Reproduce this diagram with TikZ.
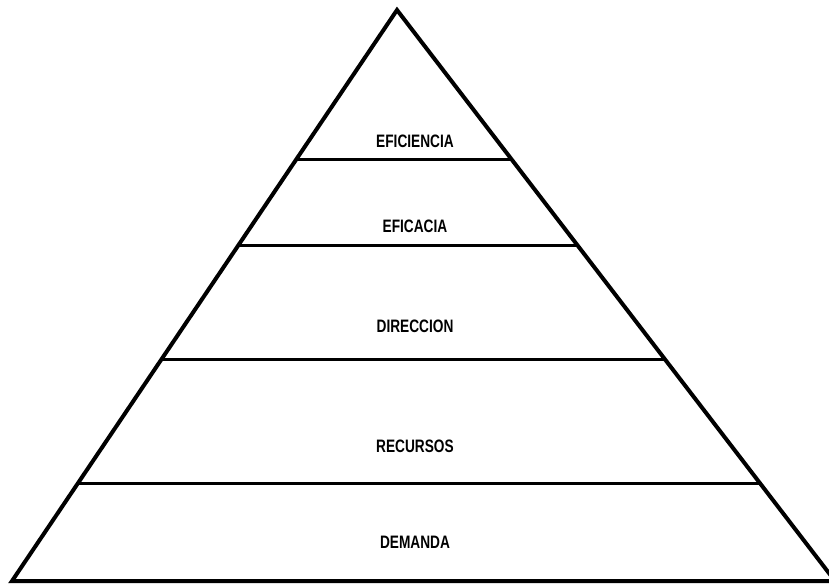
\documentclass[tikz,border=0pt]{standalone}
\usepackage{fontspec}
\setmainfont{Liberation Sans}[FakeStretch=0.76]
\usetikzlibrary{calc}
\tikzset{
  side/.style={line width=4pt, line join=miter, line cap=round},
  band/.style={line width=3pt},
  tag/.style={font=\bfseries\fontsize{18}{20}\selectfont, inner sep=0pt, anchor=center}
}
\begin{document}
\begin{tikzpicture}[x=1pt, y=-1pt]
  \useasboundingbox (0,0) rectangle (829,583);
  \clip (0,0) rectangle (829,583);
  % pyramid corners
  \coordinate (apex) at (397,10);
  \coordinate (bl) at (12,581);
  \coordinate (br) at (835,581);
  % outline
  \draw[side] (bl) -- (apex) -- (br) -- cycle;
  % level lines, cut where they meet the two sides
  \foreach \name/\yy in {l1/160, l2/246, l3/359, l4/483}{
    \coordinate (\name a) at ($(apex)!{(\yy-10)/571}!(bl)$);
    \coordinate (\name b) at ($(apex)!{(\yy-10)/571}!(br)$);
    \draw[band] (\name a) -- (\name b);
  }
  % level names
  \node[tag] (eficiencia) at (415,141) {EFICIENCIA};
  \node[tag] (eficacia) at (415,226) {EFICACIA};
  \node[tag] (direccion) at (415,326) {DIRECCION};
  \node[tag] (recursos) at (415,446) {RECURSOS};
  \node[tag] (demanda) at (415,542) {DEMANDA};
\end{tikzpicture}
\end{document}
